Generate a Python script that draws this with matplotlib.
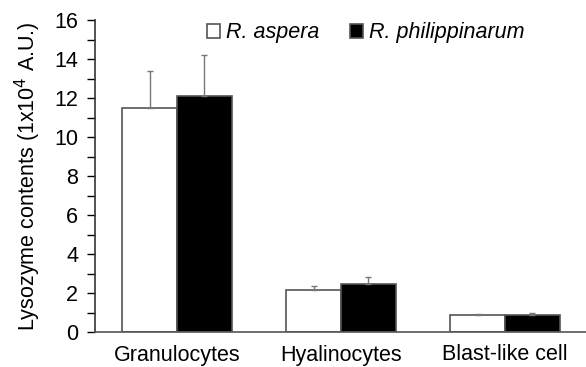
import matplotlib
matplotlib.use("Agg")
import matplotlib.pyplot as plt
from matplotlib.ticker import MultipleLocator
import numpy as np

plt.rcParams['font.family'] = ['Liberation Sans', 'DejaVu Sans']

categories = ["Granulocytes", "Hyalinocytes", "Blast-like cell"]
series_names = ["R. aspera", "R. philippinarum"]
aspera = [11.5, 2.15, 0.88]
aspera_err = [1.9, 0.2, 0.04]
philippinarum = [12.1, 2.45, 0.88]
philippinarum_err = [2.1, 0.35, 0.12]

fig = plt.figure(figsize=(5.86, 3.67), dpi=100)
ax = fig.add_axes([95/586, 1-332/367, 492/586, 312/367])

x = np.arange(len(categories))
w = 0.335
zeros = [0] * len(categories)
ekw = dict(ecolor='#777777', elinewidth=1, capsize=2, capthick=1)
ax.bar(x - w/2, aspera, w, color='white', edgecolor='#555555', linewidth=1.2,
       yerr=[zeros, aspera_err], error_kw=ekw, label=series_names[0], zorder=2)
ax.bar(x + w/2, philippinarum, w, color='black', edgecolor='#555555', linewidth=1.2,
       yerr=[zeros, philippinarum_err], error_kw=ekw, label=series_names[1], zorder=2)

fs = 15.5
ax.set_xlim(-0.5, 2.5)
ax.set_ylim(0, 16)
ax.set_xticks(x)
ax.set_xticklabels(categories, fontsize=fs)
ax.yaxis.set_major_locator(MultipleLocator(2))
ax.yaxis.set_minor_locator(MultipleLocator(1))
ax.tick_params(axis='y', which='major', labelsize=fs, length=6, width=1, direction='out', pad=6)
ax.tick_params(axis='y', which='minor', length=6, width=1, direction='out')
ax.tick_params(axis='x', length=0, pad=9)
ax.spines['top'].set_visible(False)
ax.spines['right'].set_visible(False)
ax.spines['left'].set_color('#333333')
ax.spines['bottom'].set_color('#555555')
ax.spines['left'].set_linewidth(1.2)
ax.spines['bottom'].set_linewidth(1.2)
ax.set_ylabel("Lysozyme contents (1x10$^{4}$ A.U.)", fontsize=fs, labelpad=8)

leg = ax.legend(loc='upper center', bbox_to_anchor=(0.55, 1.02), ncol=2, frameon=False,
                prop={'style': 'italic', 'size': fs}, handlelength=0.6, handleheight=0.6,
                handletextpad=0.3, columnspacing=1.4, borderaxespad=0)

fig.savefig("out.png", dpi=100)
